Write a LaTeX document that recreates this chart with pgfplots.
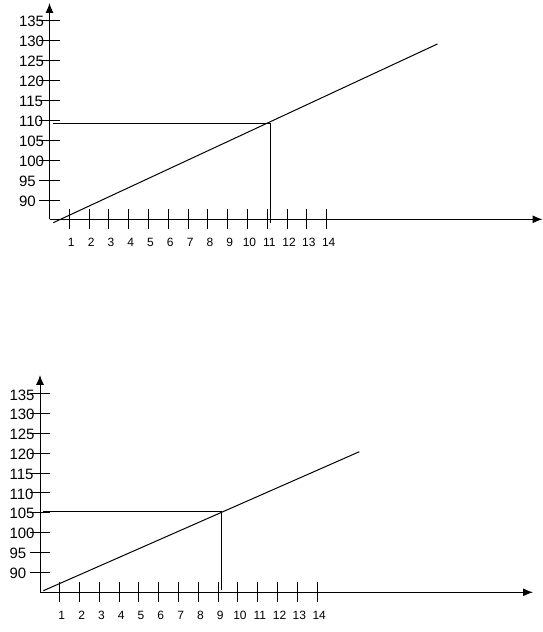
\documentclass[border=0pt]{standalone}
\usepackage{fontspec}
\setmainfont{Liberation Sans}
\usepackage{pgfplots}
\pgfplotsset{compat=1.18}
\usetikzlibrary{arrows.meta}
\begin{document}
\begin{tikzpicture}[x=1pt,y=1pt]
\useasboundingbox (0,0) rectangle (543,632);
\pgfplotsset{mystyle/.style={
 scale only axis, axis lines=left, clip=false,
 axis line style={line width=1pt, -{Latex[length=10pt,width=8pt]}},
 tick align=center, major tick length=20pt,
 major tick style={line width=1pt, black},
 xtick={1,...,14}, ytick={90,95,...,135},
 xmin=0, xmax=24.9, width=493pt,
 /pgf/number format/assume math mode=true,
 xticklabel style={font=\fontsize{12}{14}\selectfont, xshift=2pt, yshift=-5pt},
 yticklabel style={font=\fontsize{15}{17}\selectfont, anchor=west, xshift=-24pt, yshift=-1pt},
}}
\begin{axis}[mystyle, at={(49.5pt,412.7pt)}, anchor=south west, height=216.3pt, ymin=85.25, ymax=139.33]
\addplot[black, line width=1pt, no marks] coordinates {(0.19,84.4) (19.6,129.1)};
\addplot[black, line width=1pt, no marks] coordinates {(0.19,109.25) (11.14,109.25) (11.14,84.4)};
\end{axis}
\begin{axis}[mystyle, at={(40pt,39.7pt)}, anchor=south west, height=217.3pt, ymin=84.9, ymax=139.77]
\addplot[black, line width=1pt, no marks] coordinates {(0.17,85.3) (16.13,120.4)};
\addplot[black, line width=1pt, no marks] coordinates {(0.17,105.25) (9.18,105.25) (9.18,85.5)};
\end{axis}
\end{tikzpicture}
\end{document}
